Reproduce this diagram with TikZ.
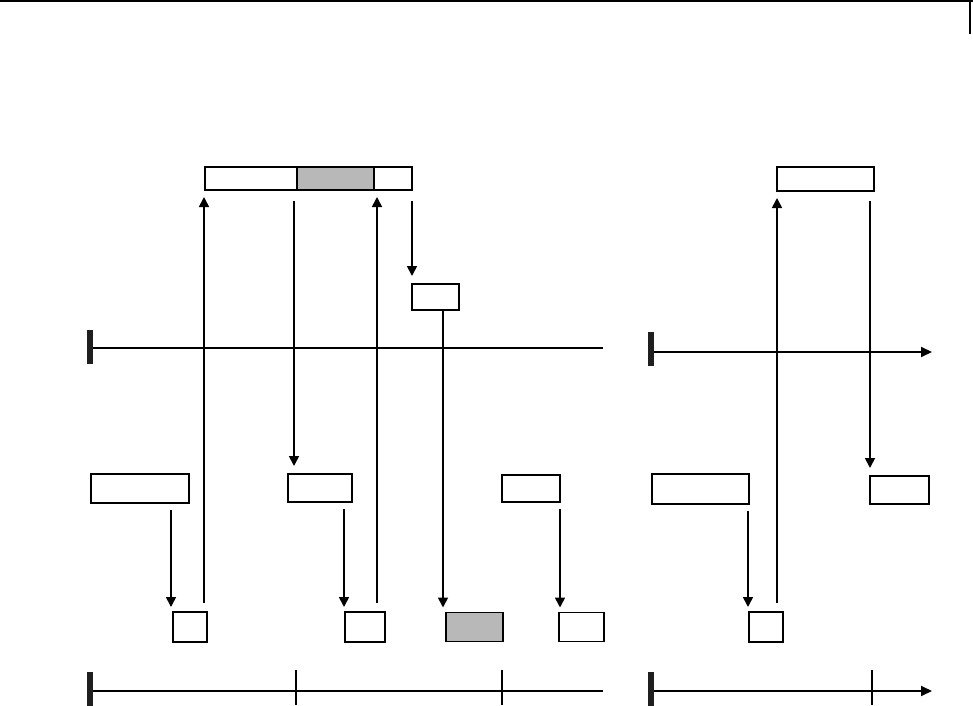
\documentclass[tikz,border=0pt]{standalone}
\usetikzlibrary{arrows.meta}

\tikzset{
  box/.style={draw, line width=1.9bp, inner sep=0pt, outer sep=0pt, fill=white},
  shaded/.style={box, fill=black!28},
  arr/.style={-{Triangle[length=10bp,width=10bp]}, line width=1.7bp},
  tline/.style={line width=1.8bp},
  bar/.style={fill=black!88, draw=none},
}

\begin{document}
\begin{tikzpicture}[x=1bp, y=-1bp]

        \useasboundingbox (0,0) rectangle (973,706);

        % Frame
        \draw[line width=1.5bp] (0,1) -- (973,1);
        \draw[line width=1.5bp] (970,1) -- (970,34);

        % Top boxes
        \node[box, minimum width=92bp, minimum height=23bp] (t1) at (251,178.5) {};
        \node[shaded, minimum width=77bp, minimum height=23bp] (t2) at (335.5,178.5) {};
        \node[box, minimum width=38bp, minimum height=23bp] (t3) at (393,178.5) {};
        \node[box, minimum width=97bp, minimum height=24bp] (r) at (825.5,179) {};
        \node[box, minimum width=47bp, minimum height=26bp] (m) at (435.5,297) {};

        % Upper time lines
        \fill[bar] (87,330) rectangle (93,364);
        \draw[tline] (93,348) -- (603,348);
        \fill[bar] (648,332) rectangle (654,366);
        \draw[tline, -{Triangle[length=11bp,width=10bp]}] (654,352) -- (932,352);

        % Middle row
        \node[box, minimum width=98bp, minimum height=29bp] (a) at (140,488.5) {};
        \node[box, minimum width=64bp, minimum height=28bp] (b) at (320,488) {};
        \node[box, minimum width=58bp, minimum height=27bp] (c) at (531,488.5) {};
        \node[box, minimum width=97bp, minimum height=30bp] (d) at (700.5,489) {};
        \node[box, minimum width=59bp, minimum height=28bp] (e) at (899.5,490) {};

        % Lower row
        \node[box, minimum width=34bp, minimum height=30bp] (p) at (190,627) {};
        \node[box, minimum width=40bp, minimum height=30bp] (q) at (365,627) {};
        \node[shaded, minimum width=57bp, minimum height=29bp] (g) at (474.5,627) {};
        \node[box, minimum width=45bp, minimum height=29bp] (s) at (581.5,627) {};
        \node[box, minimum width=34bp, minimum height=30bp] (u) at (766,627) {};

        % Lower time lines
        \fill[bar] (87,672) rectangle (93,707);
        \draw[tline] (93,691) -- (603,691);
        \draw[line width=1.7bp] (296,670) -- (296,705);
        \draw[line width=1.7bp] (502,670) -- (502,705);
        \fill[bar] (648,672) rectangle (654,707);
        \draw[tline, -{Triangle[length=11bp,width=10bp]}] (654,691) -- (932,691);
        \draw[line width=1.7bp] (872,670) -- (872,705);

        % Connectors
        \draw[arr, shorten <=7bp, shorten >=5bp] ([xshift=-2bp]a.south -| p.west) -- ([xshift=-2bp]p.north west);
        \draw[arr, shorten <=9bp, shorten >=7bp] ([xshift=-1bp]p.north -| t1.west) -- ([xshift=-1bp]t1.south west);
        \draw[arr, shorten <=11bp, shorten >=8bp] ([xshift=-3bp]t2.south west) -- ([xshift=-3bp]b.north -| t2.west);
        \draw[arr, shorten <=7bp, shorten >=5bp] ([xshift=-1bp]b.south -| q.west) -- ([xshift=-1bp]q.north west);
        \draw[arr, shorten <=9bp, shorten >=7bp] ([xshift=3bp]q.north -| t3.west) -- ([xshift=3bp]t3.south west);
        \draw[arr, shorten <=11bp, shorten >=8bp] (t3.south east) -- (m.north west);
        \draw[arr, shorten >=5bp] ([xshift=-3bp]m.south -| g.west) -- ([xshift=-3bp]g.north west);
        \draw[arr, shorten <=7bp, shorten >=5bp] (c.south east) -- (c.south east |- s.north);
        \draw[arr, shorten <=7bp, shorten >=5bp] ([xshift=-1bp]d.south east) -- ([xshift=-1bp]d.south east |- u.north);
        \draw[arr, shorten <=9bp, shorten >=7bp] (u.north -| r.west) -- (r.south west);
        \draw[arr, shorten <=10bp, shorten >=8bp] (r.south -| e.west) -- (e.north west);

\end{tikzpicture}
\end{document}
